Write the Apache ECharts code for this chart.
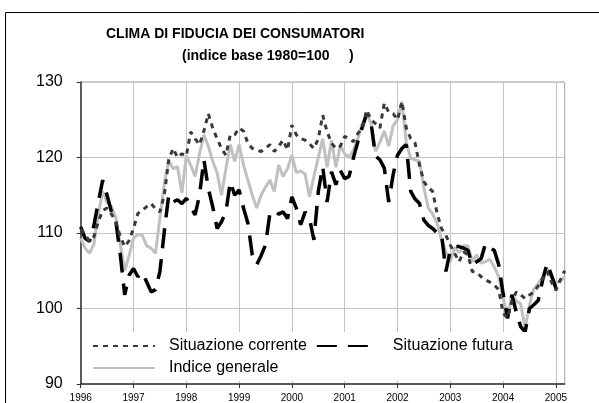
<!DOCTYPE html>
<html>
<head>
<meta charset="utf-8">
<script src="https://cdn.jsdelivr.net/npm/echarts@6/dist/echarts.min.js"></script>
<style>
  html, body { margin: 0; padding: 0; background: #fff; }
  #chart { width: 599px; height: 403px; }
</style>
</head>
<body>
<div id="chart"></div>
<script>
// monthly data, Jan 1996 -> Mar 2005
var startYear = 1996;
var seriesNames = ["Situazione corrente", "Situazione futura", "Indice generale"];

var corrente = [
  110.5, 109.8, 108.9, 109.5, 111.5, 113.0, 113.3, 112.5, 111.5, 109.5, 108.2, 109.0,
  110.6, 112.6, 113.0, 113.5, 113.9, 113.2, 112.8, 115.0, 119.7, 121.2, 120.0, 120.5,
  120.2, 123.4, 122.5, 121.7, 123.5, 125.8, 123.9, 122.5, 121.2, 120.3, 123.0, 123.0,
  123.9, 123.5, 121.9, 121.2, 121.0, 120.8, 121.2, 121.7, 120.8, 121.5, 122.3, 121.0,
  124.3, 123.0, 122.5, 122.3, 121.8, 121.2, 122.5, 125.6, 123.4, 121.9, 121.2, 121.5,
  122.8, 122.5, 122.1, 123.2, 123.9, 126.3, 125.0, 124.5, 123.9, 127.2, 126.0, 125.8,
  125.0, 127.4, 123.9, 122.5, 121.9, 119.0, 116.8, 116.0, 115.5, 112.6, 110.6, 109.7,
  108.4, 107.3, 106.2, 107.5, 107.1, 104.9, 104.8, 104.2, 103.8, 103.5, 103.1, 102.5,
  99.4, 98.7, 101.0, 102.2, 101.8, 101.3, 101.8, 102.2, 103.0, 104.0, 104.9, 103.5,
  102.4, 103.8, 105.0
];
var futura = [
  110.8, 109.3, 108.9, 111.0, 114.1, 117.0, 115.0, 112.8, 111.5, 107.1, 101.8, 104.4,
  105.3, 104.2, 104.8, 103.5, 102.2, 102.5, 104.9, 110.2, 115.0, 114.1, 114.4, 113.9,
  114.6, 113.5, 112.4, 115.0, 119.7, 115.9, 113.5, 110.6, 111.5, 112.8, 116.8, 115.0,
  115.7, 113.3, 111.3, 107.1, 105.8, 107.0, 108.4, 112.6, 113.0, 112.5, 112.8, 111.9,
  114.8, 113.3, 111.1, 112.8, 111.9, 109.1, 115.5, 118.8, 114.1, 118.1, 116.4, 118.3,
  117.2, 117.5, 120.0, 122.1, 124.0, 125.8, 124.5, 120.2, 119.7, 118.6, 114.1, 117.7,
  120.3, 121.2, 121.7, 115.5, 114.5, 113.9, 111.7, 111.0, 110.6, 110.0, 109.9, 104.9,
  107.7, 108.2, 108.2, 108.0, 107.7, 105.8, 106.2, 106.6, 108.6, 108.0, 107.7, 105.8,
  102.0, 98.7, 101.8, 99.5, 97.6, 96.9, 100.0, 100.5, 101.1, 103.8, 106.0, 104.4,
  102.7, 102.2, 101.8
];
var generale = [
  109.3, 108.0, 107.3, 108.5, 112.5, 115.5, 114.0, 113.5, 112.0, 108.5, 105.0, 107.0,
  109.3, 109.8, 109.7, 108.3, 108.0, 107.3, 112.0, 116.5, 119.6, 118.5, 118.8, 115.3,
  120.2, 119.0, 117.5, 120.5, 123.0, 121.5, 119.5, 118.0, 115.0, 118.5, 121.7, 119.5,
  121.7, 119.0, 117.0, 115.0, 113.3, 115.0, 116.1, 117.0, 115.5, 119.0, 117.5, 118.5,
  120.3, 118.0, 118.2, 117.8, 114.8, 117.5, 120.0, 122.5, 118.7, 122.3, 118.7, 121.6,
  120.5, 120.0, 121.0, 122.5, 124.5, 125.8, 124.5, 120.8, 122.0, 123.5, 121.5, 124.2,
  125.0, 127.4, 122.0, 119.9, 119.7, 119.5, 116.0, 113.3, 112.5, 111.3, 109.1, 107.5,
  106.2, 108.1, 107.4, 108.3, 108.3, 106.2, 107.1, 106.0, 106.2, 106.5, 105.5, 104.2,
  101.5, 98.9, 101.8, 101.0, 100.6, 97.4, 100.5, 102.6, 103.3, 104.2, 105.3, 104.0,
  103.4, 103.6, 104.2
];

// category labels "YYYY-MM"
var months = [];
for (var i = 0; i < corrente.length; i++) {
  var y = startYear + Math.floor(i / 12);
  var m = (i % 12) + 1;
  months.push(y + "-" + (m < 10 ? "0" + m : m));
}

var font = "'Liberation Sans', Arial, sans-serif";
var myChart = echarts.init(document.getElementById("chart"));
var option = {
  animation: false,
  backgroundColor: "#fff",
  title: [
    {
      text: "CLIMA DI FIDUCIA DEI CONSUMATORI",
      left: 106, top: 27, padding: 0,
      textStyle: { fontSize: 14, fontWeight: "bold", color: "#000", fontFamily: font }
    },
    {
      text: "(indice base 1980=100     )",
      left: 182, top: 49, padding: 0,
      textStyle: { fontSize: 14, fontWeight: "bold", color: "#000", fontFamily: font }
    }
  ],
  graphic: [
    {
      type: "rect", z: -1, silent: true,
      shape: { x: 5.5, y: 12.5, width: 700, height: 500 },
      style: { fill: "none", stroke: "#000", lineWidth: 1 }
    },
    {
      type: "rect", z: 3, silent: true,
      shape: { x: 83, y: 332, width: 462, height: 49 },
      style: { fill: "#fff" }
    }
  ],
  legend: [
    {
      data: [seriesNames[0], seriesNames[1]],
      left: 92, top: 338, padding: 0,
      itemWidth: 62, itemHeight: 14, itemGap: 9,
      itemStyle: { opacity: 0 },
      textStyle: { fontSize: 16, color: "#000", fontFamily: font, padding: [0, 0, 0, 9] }
    },
    {
      data: [seriesNames[2]],
      left: 92, top: 360, padding: 0,
      itemWidth: 62, itemHeight: 14,
      itemStyle: { opacity: 0 },
      textStyle: { fontSize: 16, color: "#000", fontFamily: font, padding: [0, 0, 0, 9] }
    }
  ],
  grid: {
    left: 80.7, right: 34.3, top: 82, bottom: 19,
    show: true, borderColor: "#a0a0a0", borderWidth: 1
  },
  xAxis: {
    type: "category",
    data: months,
    boundaryGap: false,
    axisLine: { lineStyle: { color: "#333", width: 1.5 } },
    axisTick: { interval: 11, length: 4, lineStyle: { color: "#333" } },
    axisLabel: {
      interval: 11, fontSize: 10, color: "#000", fontFamily: font, margin: 9,
      formatter: function (v) { return v.slice(0, 4); }
    },
    splitLine: { show: true, interval: 11, lineStyle: { color: "#c4c4c4", width: 1 } }
  },
  yAxis: {
    type: "value",
    min: 90, max: 130, interval: 10,
    axisLine: { show: true, lineStyle: { color: "#333", width: 1.5 } },
    axisTick: { show: true, length: 4, lineStyle: { color: "#333" } },
    axisLabel: { fontSize: 16, color: "#000", fontFamily: font, margin: 18 },
    splitLine: { lineStyle: { color: "#c4c4c4", width: 1 } }
  },
  series: [
    {
      name: seriesNames[2], type: "line", data: generale, symbol: "none", z: 2,
      lineStyle: { color: "#c0c0c0", width: 3 },
      itemStyle: { color: "#c0c0c0" }
    },
    {
      name: seriesNames[1], type: "line", data: futura, symbol: "none", z: 2,
      lineStyle: { color: "#000", width: 3.5, type: [20, 11] },
      itemStyle: { color: "#000" }
    },
    {
      name: seriesNames[0], type: "line", data: corrente, symbol: "none", z: 2,
      lineStyle: { color: "#3a3a3a", width: 3, type: [5, 5] },
      itemStyle: { color: "#3a3a3a" }
    }
  ]
};
option && myChart.setOption(option);
</script>
</body>
</html>
